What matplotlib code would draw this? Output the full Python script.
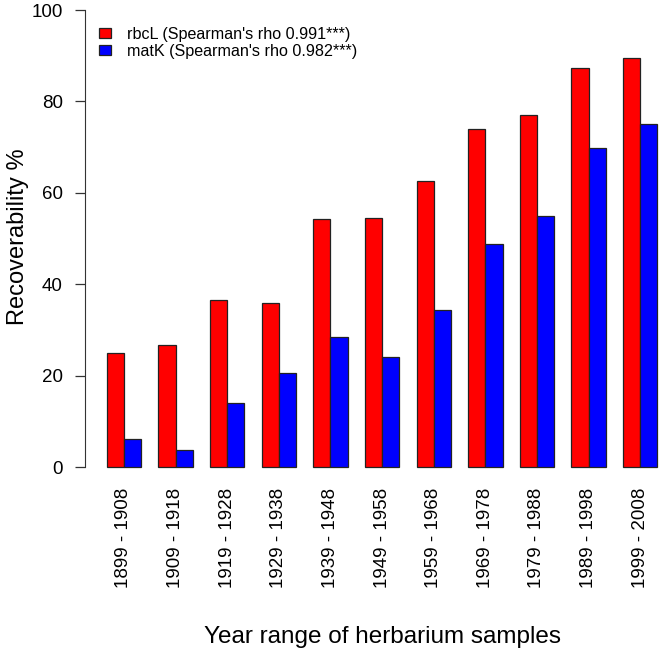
import matplotlib
matplotlib.use('Agg')
import matplotlib.pyplot as plt
import numpy as np

plt.rcParams['font.family'] = ['Liberation Sans', 'DejaVu Sans']

# Dados
year_ranges = ['1899 - 1908', '1909 - 1918', '1919 - 1928', '1929 - 1938',
               '1939 - 1948', '1949 - 1958', '1959 - 1968', '1969 - 1978',
               '1979 - 1988', '1989 - 1998', '1999 - 2008']
rbcl = [25.0, 26.8, 36.5, 35.9, 54.3, 54.5, 62.6, 73.9, 77.0, 87.3, 89.5]
matk = [6.2, 3.8, 14.0, 20.5, 28.4, 24.1, 34.4, 48.8, 54.9, 69.8, 75.0]

rbcl_label = "rbcL (Spearman's rho 0.991***)"
matk_label = "matK (Spearman's rho 0.982***)"

fig = plt.figure(figsize=(6.64, 6.55), dpi=100)
ax = fig.add_axes([0.1276, 0.2591, 0.8724, 0.7409])

# barras lado a lado, estilo barplot do R (espaço 1 entre grupos)
idx = np.arange(len(year_ranges))
x_red = 1 + 3 * idx
x_blue = 2 + 3 * idx
ax.bar(x_red, rbcl, width=1, align='edge', color='#ff0000',
       edgecolor='#222222', linewidth=0.9, label=rbcl_label)
ax.bar(x_blue, matk, width=1, align='edge', color='#0000ff',
       edgecolor='#222222', linewidth=0.9, label=matk_label)

ax.set_xlim(-0.28, 33.38)
ax.set_ylim(-4, 102.19)

for s in ['top', 'right', 'bottom']:
    ax.spines[s].set_visible(False)
ax.spines['left'].set_bounds(0, 100)
ax.spines['left'].set_color('#333333')

ax.set_yticks([0, 20, 40, 60, 80, 100])
ax.tick_params(axis='y', length=7.2, width=0.9, color='#333333', pad=8.6,
               labelsize=13.5)
ax.set_xticks(x_blue)
ax.set_xticklabels(year_ranges, rotation=90)
ax.tick_params(axis='x', length=0, pad=2, labelsize=13.5)

ax.legend(loc='upper left', bbox_to_anchor=(99 / 664, 1 - 27 / 655),
          bbox_transform=fig.transFigure, frameon=False,
          fontsize=11.6, handlelength=0.75, handleheight=0.56,
          handletextpad=1.0, labelspacing=0.1, borderpad=0,
          borderaxespad=0)

fig.text(18 / 664, 1 - 237 / 655, 'Recoverability %', rotation=90,
         ha='center', va='center', fontsize=17)
fig.text(382 / 664, 1 - 643 / 655, 'Year range of herbarium samples',
         ha='center', va='baseline', fontsize=17.5)

plt.savefig('out.png', dpi=100)
